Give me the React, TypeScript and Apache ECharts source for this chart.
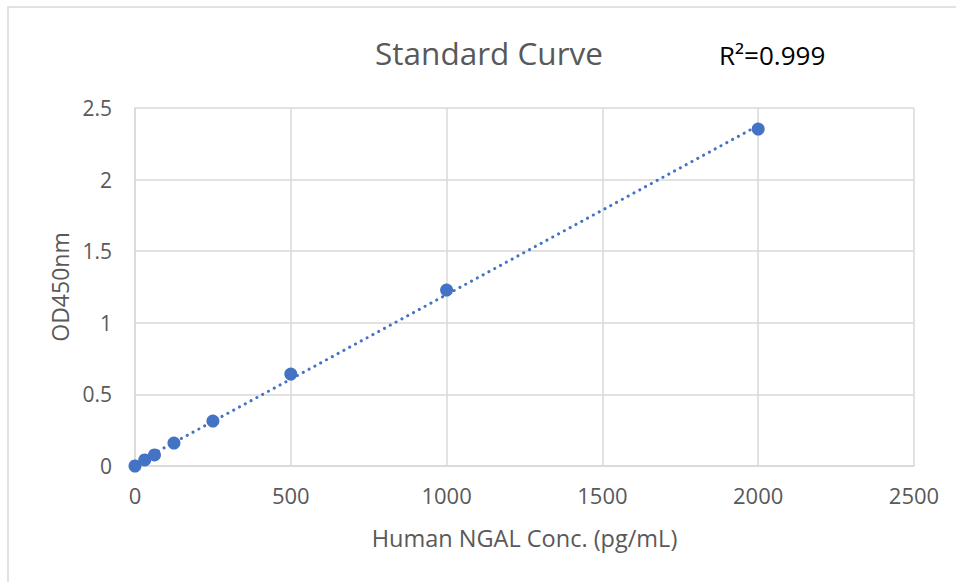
import React, { useEffect, useRef } from "react";
import * as echarts from "echarts";

const concentrations = [0, 31.25, 62.5, 125, 250, 500, 1000, 2000];
const odValues = [0, 0.042, 0.077, 0.16, 0.314, 0.642, 1.229, 2.353];
const xTicks = [0, 500, 1000, 1500, 2000, 2500];
const yTicks = [0, 0.5, 1, 1.5, 2, 2.5];
const titleText = "Standard Curve";
const r2Text = "R²=0.999";
const xName = "Human NGAL Conc. (pg/mL)";
const yName = "OD450nm";

function linearFit(xs: number[], ys: number[]) {
  const n = xs.length;
  const mx = xs.reduce((a, b) => a + b, 0) / n;
  const my = ys.reduce((a, b) => a + b, 0) / n;
  let sxy = 0;
  let sxx = 0;
  for (let i = 0; i < n; i++) {
    sxy += (xs[i] - mx) * (ys[i] - my);
    sxx += (xs[i] - mx) * (xs[i] - mx);
  }
  const slope = sxy / sxx;
  return { slope, intercept: my - slope * mx };
}

export default function App() {
  const ref = useRef<HTMLDivElement>(null);
  useEffect(() => {
    if (!ref.current) return;
    const chart = echarts.init(ref.current, null, { renderer: "svg" });
    const fit = linearFit(concentrations, odValues);
    const xMin = Math.min(...concentrations);
    const xMax = Math.max(...concentrations);
    const trend = [
      [xMin, fit.intercept + fit.slope * xMin],
      [xMax, fit.intercept + fit.slope * xMax],
    ];
    const font = "'Open Sans', 'Noto Sans', sans-serif";
    chart.setOption({
      animation: false,
      backgroundColor: "#ffffff",
      title: {
        text: titleText,
        left: 484,
        top: 31,
        textAlign: "center",
        textStyle: { fontFamily: font, fontSize: 31.5, fontWeight: "normal", color: "#595959" },
      },
      graphic: [
        {
          type: "rect",
          shape: { x: 8, y: 7, width: 1200, height: 1200 },
          style: { fill: "none", stroke: "#d9d9d9", lineWidth: 1.5 },
          silent: true,
        },
        {
          type: "text",
          left: 719,
          top: 42,
          style: { text: r2Text, fontFamily: font, fontSize: 26, fill: "#000000" },
        },
      ],
      grid: { left: 135, right: 42, top: 108, bottom: 116 },
      xAxis: {
        type: "value",
        min: xTicks[0],
        max: xTicks[xTicks.length - 1],
        interval: xTicks[1] - xTicks[0],
        name: xName,
        nameLocation: "middle",
        nameGap: 60,
        nameTextStyle: { fontFamily: font, fontSize: 23.5, color: "#595959" },
        axisLine: { show: true, lineStyle: { color: "#d9d9d9", width: 1.5 } },
        axisTick: { show: false },
        axisLabel: {
          fontFamily: font,
          fontSize: 22,
          color: "#595959",
          margin: 18,
          formatter: (v: number) => String(v),
        },
        splitLine: { show: true, lineStyle: { color: "#d9d9d9", width: 1.5 } },
      },
      yAxis: {
        type: "value",
        min: yTicks[0],
        max: yTicks[yTicks.length - 1],
        interval: yTicks[1] - yTicks[0],
        name: yName,
        nameLocation: "middle",
        nameGap: 63,
        nameTextStyle: { fontFamily: font, fontSize: 23, color: "#595959" },
        axisLine: { show: true, lineStyle: { color: "#d9d9d9", width: 1.5 } },
        axisTick: { show: false },
        axisLabel: {
          fontFamily: font,
          fontSize: 21,
          color: "#595959",
          margin: 23,
          formatter: (v: number) => String(v),
        },
        splitLine: { show: true, lineStyle: { color: "#d9d9d9", width: 1.5 } },
      },
      series: [
        {
          type: "line",
          data: trend,
          showSymbol: false,
          symbol: "none",
          lineStyle: { color: "#4472C4", width: 3, type: [0.1, 6.5], cap: "round" },
          z: 2,
        },
        {
          type: "scatter",
          data: concentrations.map((c, i) => [c, odValues[i]]),
          symbol: "circle",
          symbolSize: 13,
          itemStyle: { color: "#4472C4", opacity: 1 },
          z: 3,
        },
      ],
    });
    return () => chart.dispose();
  }, []);
  return (
    <div
      ref={ref}
      style={{ position: "fixed", left: 0, top: 0, width: 956, height: 582 }}
    />
  );
}
